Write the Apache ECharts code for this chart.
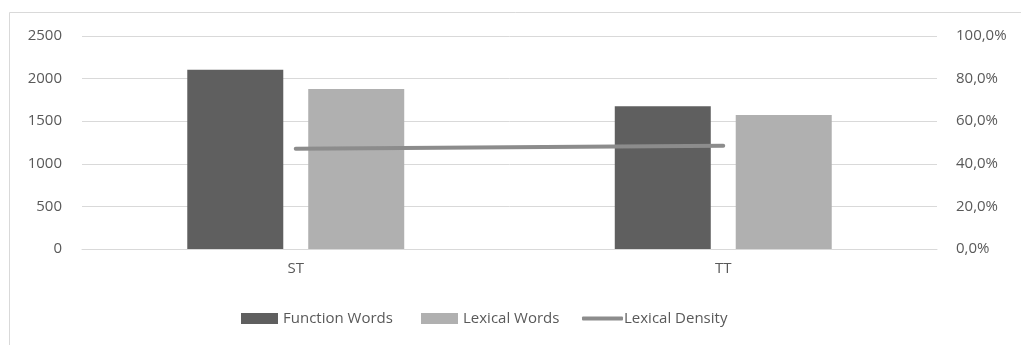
<!DOCTYPE html>
<html>
<head>
<meta charset="utf-8">
<script src="https://cdn.jsdelivr.net/npm/echarts@6/dist/echarts.min.js"></script>
<style>
  html, body { margin: 0; padding: 0; background: #ffffff; }
  #chart { width: 1021px; height: 345px; }
</style>
</head>
<body>
<div id="chart"></div>
<script>
// Word counts per text and the resulting lexical density
const categories = ['ST', 'TT'];
const functionWords = [2105, 1675];
const lexicalWords = [1878, 1572];
const lexicalDensity = [0.471, 0.485];
const countTicks = { min: 0, max: 2500, interval: 500 };
const shareTicks = { min: 0, max: 1, interval: 0.2 };

const FONT = '"Open Sans", sans-serif';
const TEXT = '#595959';
const GRID = '#d9d9d9';

const chart = echarts.init(document.getElementById('chart'), null, { renderer: 'canvas' });

function legendAt(left, name, icon, w, h, textShift) {
  return {
    left: left, top: 311, padding: 0,
    itemWidth: w, itemHeight: h,
    textStyle: { color: TEXT, fontFamily: FONT, fontSize: 15, padding: [0, 0, 0, textShift] },
    selectedMode: false,
    data: [{ name: name, icon: icon }]
  };
}

chart.setOption({
  animation: false,
  backgroundColor: '#ffffff',
  graphic: [{
    type: 'rect',
    shape: { x: 9.5, y: 12.5, width: 1100, height: 400 },
    style: { fill: 'none', stroke: GRID, lineWidth: 1 },
    silent: true, z: -10
  }],
  grid: { left: 82, right: 84, top: 36, bottom: 96 },
  legend: [
    legendAt(241, 'Function Words', 'rect', 37, 11, 0),
    legendAt(421, 'Lexical Words', 'rect', 37, 11, 0),
    legendAt(582, 'Lexical Density', 'roundRect', 41, 4, -4)
  ],
  xAxis: {
    type: 'category',
    data: categories,
    axisTick: { show: false },
    axisLine: { lineStyle: { color: GRID, width: 1 } },
    axisLabel: { color: TEXT, fontFamily: FONT, fontSize: 15, margin: 12 }
  },
  yAxis: [{
    type: 'value',
    min: countTicks.min, max: countTicks.max, interval: countTicks.interval,
    axisLine: { show: false },
    axisTick: { show: false },
    splitLine: { lineStyle: { color: GRID, width: 1 } },
    axisLabel: {
      color: TEXT, fontFamily: FONT, fontSize: 15, margin: 20,
      formatter: v => String(v)
    }
  }, {
    type: 'value',
    min: shareTicks.min, max: shareTicks.max, interval: shareTicks.interval,
    axisLine: { show: false },
    axisTick: { show: false },
    splitLine: { show: false },
    axisLabel: {
      color: TEXT, fontFamily: FONT, fontSize: 15, margin: 19,
      formatter: v => (v * 100).toFixed(1).replace('.', ',') + '%'
    }
  }],
  series: [{
    name: 'Function Words',
    type: 'bar',
    data: functionWords,
    barWidth: 96,
    barGap: '26%',
    itemStyle: { color: '#5f5f5f' }
  }, {
    name: 'Lexical Words',
    type: 'bar',
    data: lexicalWords,
    barWidth: 96,
    barGap: '26%',
    itemStyle: { color: '#b0b0b0' }
  }, {
    name: 'Lexical Density',
    type: 'line',
    yAxisIndex: 1,
    data: lexicalDensity,
    symbol: 'none',
    showSymbol: false,
    z: 5,
    lineStyle: { color: '#8c8c8c', width: 4, cap: 'round' },
    itemStyle: { color: '#8c8c8c' }
  }]
});
</script>
</body>
</html>
